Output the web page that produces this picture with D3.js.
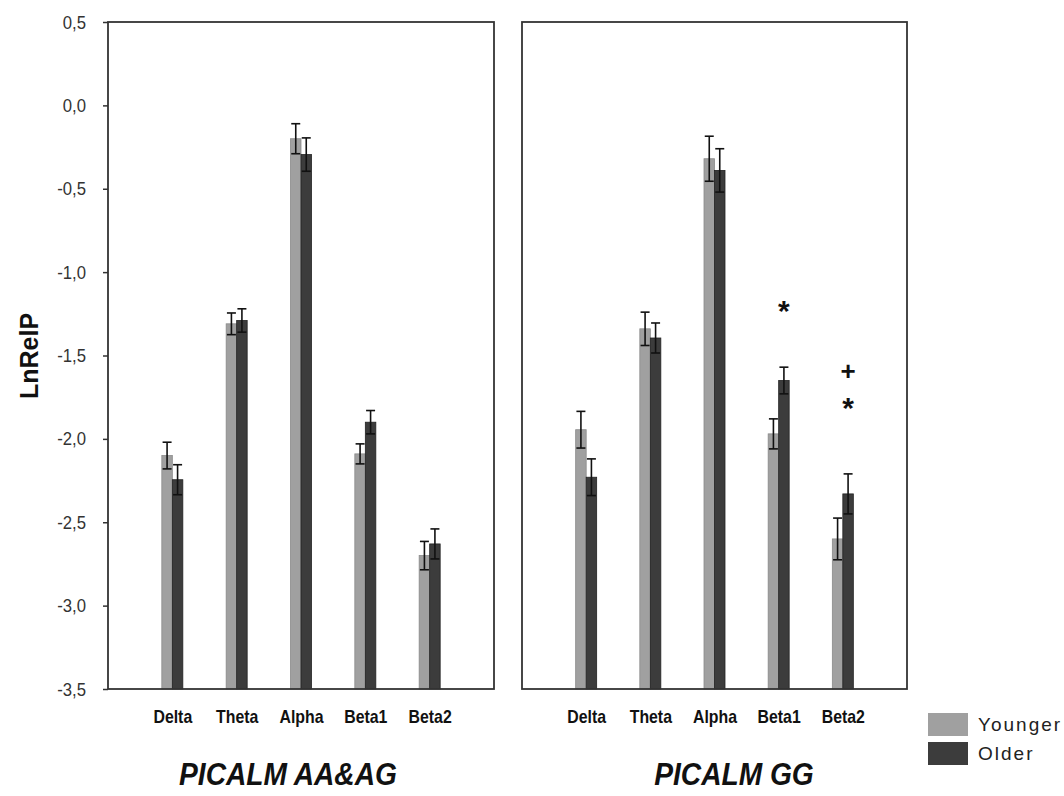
<!DOCTYPE html>
<html>
<head>
<meta charset="utf-8">
<script src="https://cdn.jsdelivr.net/npm/d3@7/dist/d3.min.js"></script>
<style>
  html, body { margin: 0; padding: 0; background: #fff; }
  svg { display: block; }
  text { font-family: "Liberation Sans", Arial, sans-serif; }
</style>
</head>
<body>
<svg id="chart" width="1064" height="796"></svg>
<script>
// ---- data ----
const categories = ["Delta", "Theta", "Alpha", "Beta1", "Beta2"];
const panelTitles = ["PICALM AA&AG", "PICALM GG"];
const seriesNames = ["Younger", "Older"];

const youngerAA    = [-2.10, -1.31, -0.20, -2.09, -2.70];
const youngerAAErr = [0.08, 0.065, 0.09, 0.06, 0.085];
const olderAA      = [-2.245, -1.29, -0.295, -1.90, -2.63];
const olderAAErr   = [0.09, 0.07, 0.10, 0.07, 0.09];

const youngerGG    = [-1.945, -1.34, -0.32, -1.97, -2.60];
const youngerGGErr = [0.11, 0.10, 0.135, 0.09, 0.125];
const olderGG      = [-2.23, -1.395, -0.39, -1.65, -2.33];
const olderGGErr   = [0.11, 0.09, 0.13, 0.08, 0.12];

const yTicks = [0.5, 0.0, -0.5, -1.0, -1.5, -2.0, -2.5, -3.0, -3.5];

// significance marks (panel index, category, value position, symbol)
const marksPanel = [1, 1, 1];
const marksCat   = ["Beta1", "Beta2", "Beta2"];
const marksValue = [-1.22, -1.59, -1.80];
const marksText  = ["*", "+", "*"];

// ---- layout ----
const colors = ["#a0a0a0", "#3c3c3c"];
const strokes = ["#8a8a8a", "#222"];
const panelX = [[108, 494], [522, 907]];
const plotTop = 22, plotBottom = 689;
const sx = 0.88; // horizontal text compression seen in the original

const svg = d3.select("#chart");
const y = d3.scaleLinear().domain([-3.5, 0.5]).range([plotBottom, plotTop]);

const data = [
  [youngerAA, youngerAAErr, olderAA, olderAAErr],
  [youngerGG, youngerGGErr, olderGG, olderGGErr]
];

const bw = 10.5;

panelX.forEach((px, p) => {
  const x = d3.scalePoint().domain(categories).range(px).padding(1);
  const g = svg.append("g");

  const [yv, ye, ov, oe] = data[p];
  const series = [[yv, ye], [ov, oe]];

  series.forEach(([vals, errs], s) => {
    g.selectAll(null).data(categories).enter().append("rect")
      .attr("x", d => x(d) - (s === 0 ? bw : 0))
      .attr("width", bw)
      .attr("y", (d, i) => y(vals[i]))
      .attr("height", (d, i) => y(-3.5) - y(vals[i]))
      .attr("fill", colors[s])
      .attr("stroke", strokes[s])
      .attr("stroke-width", 0.8);
  });

  series.forEach(([vals, errs], s) => {
    const cx = d => x(d) + (s === 0 ? -bw / 2 : bw / 2);
    const eg = g.selectAll(null).data(categories).enter().append("g")
      .attr("stroke", "#111").attr("stroke-width", 1.6);
    eg.append("line")
      .attr("x1", cx).attr("x2", cx)
      .attr("y1", (d, i) => y(vals[i] + errs[i]))
      .attr("y2", (d, i) => y(vals[i] - errs[i]));
    eg.append("line")
      .attr("x1", d => cx(d) - 4.5).attr("x2", d => cx(d) + 4.5)
      .attr("y1", (d, i) => y(vals[i] + errs[i]))
      .attr("y2", (d, i) => y(vals[i] + errs[i]));
    eg.append("line")
      .attr("x1", d => cx(d) - 4.5).attr("x2", d => cx(d) + 4.5)
      .attr("y1", (d, i) => y(vals[i] - errs[i]))
      .attr("y2", (d, i) => y(vals[i] - errs[i]));
  });

  // frame
  g.append("rect")
    .attr("x", px[0]).attr("y", plotTop)
    .attr("width", px[1] - px[0]).attr("height", plotBottom - plotTop)
    .attr("fill", "none").attr("stroke", "#333").attr("stroke-width", 1.8);

  // x axis labels
  const xa = g.append("g").attr("transform", `translate(0,${plotBottom})`)
    .call(d3.axisBottom(x).tickSize(0).tickPadding(34));
  xa.select(".domain").remove();
  xa.selectAll("text")
    .attr("font-size", 18).attr("font-weight", "bold").attr("fill", "#111")
    .attr("dy", "0")
    .attr("transform", `scale(${sx},1)`);

  // title
  const tcx = [288, 734][p];
  g.append("text")
    .attr("transform", `translate(${tcx},785) scale(${sx},1)`)
    .attr("text-anchor", "middle")
    .attr("font-size", 32).attr("font-weight", "bold").attr("font-style", "italic")
    .attr("fill", "#111")
    .text(panelTitles[p]);

  // significance marks
  marksPanel.forEach((mp, k) => {
    if (mp !== p) return;
    g.append("text")
      .attr("transform", `translate(${x(marksCat[k]) + bw / 2},${y(marksValue[k])})`)
      .attr("text-anchor", "middle")
      .attr("dy", marksText[k] === "*" ? "0.42em" : "0.35em")
      .attr("font-size", marksText[k] === "*" ? 30 : 26)
      .attr("font-weight", "bold")
      .attr("fill", "#111")
      .text(marksText[k]);
  });
});

// y axis
const ya = svg.append("g").attr("transform", `translate(${panelX[0][0]},0)`)
  .call(d3.axisLeft(y).tickValues(yTicks).tickSize(5).tickPadding(20)
    .tickFormat(d => d3.format(".1f")(d).replace(".", ",").replace("−", "-")));
ya.select(".domain").remove();
ya.selectAll(".tick line").attr("stroke", "#333").attr("stroke-width", 1.5);
ya.selectAll("text")
  .attr("font-size", 19).attr("fill", "#333")
  .attr("transform", `scale(${sx},1)`);

// y axis title
svg.append("text")
  .attr("transform", `translate(38,356) rotate(-90)`)
  .attr("text-anchor", "middle")
  .attr("font-size", 25).attr("font-weight", "bold").attr("fill", "#111")
  .text("LnRelP");

// legend
const leg = svg.append("g");
seriesNames.forEach((name, i) => {
  leg.append("rect")
    .attr("x", 928).attr("y", 713 + i * 29)
    .attr("width", 40).attr("height", 23)
    .attr("fill", colors[i]);
  leg.append("text")
    .attr("x", 978).attr("y", 731 + i * 29)
    .attr("font-size", 19).attr("fill", "#222")
    .attr("letter-spacing", 2)
    .text(name);
});
</script>
</body>
</html>
